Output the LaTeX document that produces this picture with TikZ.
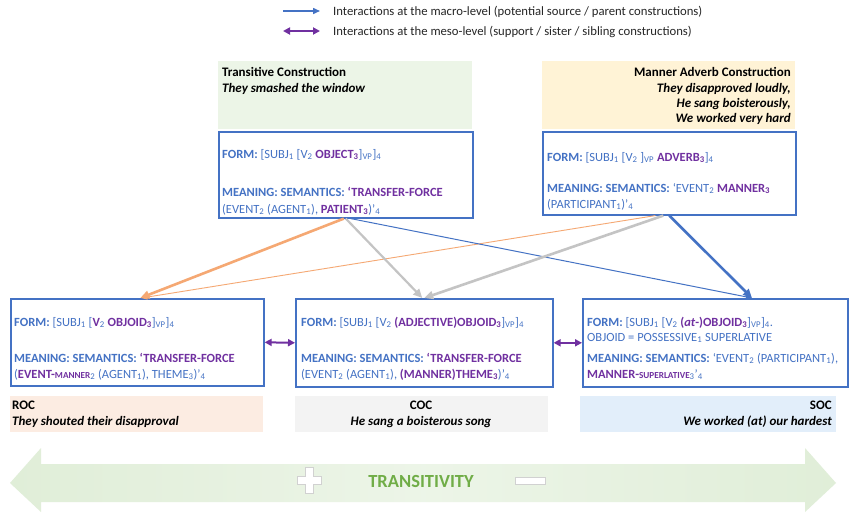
\documentclass[tikz,border=0pt]{standalone}
\usepackage{fontspec}
\setmainfont{Carlito}
\usetikzlibrary{arrows.meta,calc}
\definecolor{cblue}{RGB}{68,114,196}
\definecolor{cpurp}{RGB}{112,48,160}
\definecolor{corange}{RGB}{245,168,115}
\definecolor{cgray}{RGB}{196,196,196}
\definecolor{bggreen}{RGB}{236,245,231}
\definecolor{bgyellow}{RGB}{255,243,214}
\definecolor{bgpeach}{RGB}{252,236,226}
\definecolor{bggray}{RGB}{243,243,243}
\definecolor{bgblue}{RGB}{226,238,250}
\definecolor{arrowgreen}{RGB}{224,238,216}
\definecolor{tgreen}{RGB}{112,173,71}
\newcommand\pu[1]{\textcolor{cpurp}{\bfseries #1}}
\newcommand\ssub[1]{\textsubscript{#1}}
\newcommand\smc[1]{{\fontsize{9.2}{10}\selectfont #1}}
\tikzset{
  txt/.style={anchor=base west, inner sep=0pt, font=\fontsize{12.5}{14}\selectfont, text=cblue},
  lbl/.style={inner sep=0pt, font=\fontsize{13}{15}\selectfont, text=black},
  leg/.style={inner sep=0pt, font=\fontsize{12.7}{15}\selectfont, text=black!85, anchor=base west},
  box/.style={draw=cblue, line width=1.6pt, anchor=north west, inner sep=0pt, fill=white},
  bgbox/.style={anchor=north west, inner sep=0pt, draw=none},
  orangethick/.style={draw=corange, line width=2.6pt, -{Triangle[length=9pt,width=8pt]}},
  orangethin/.style={draw=corange, line width=0.9pt, -{Triangle[length=6pt,width=5pt]}},
  graymid/.style={draw=cgray, line width=2.2pt, -{Triangle[length=9pt,width=8pt]}},
  graythick/.style={draw=cgray, line width=2.6pt, -{Triangle[length=9pt,width=8pt]}},
  bluethin/.style={draw=cblue, line width=1pt, -{Triangle[length=6pt,width=5pt]}},
  bluethick/.style={draw=cblue, line width=2.6pt, -{Triangle[length=9pt,width=8pt]}},
  legblue/.style={draw=cblue, line width=1.5pt, -{Triangle[length=7pt,width=6pt]}},
  legpurp/.style={draw=cpurp, line width=2pt, {Triangle[length=7pt,width=7pt]}-{Triangle[length=7pt,width=7pt]}},
}
\begin{document}
\begin{tikzpicture}[x=1pt,y=-1pt]
\useasboundingbox (0,0) rectangle (850,512);
\fill[white] (0,0) rectangle (850,512);

% legend
\coordinate (lb1) at (283,11);
\coordinate (lb2) at (320,11);
\coordinate (lp1) at (283,31);
\coordinate (lp2) at (320,31);
\draw[legblue] (lb1) -- (lb2);
\draw[legpurp] (lp1) -- (lp2);
\node[leg] (leg1) at (333,15) {Interactions at the macro-level (potential source / parent constructions)};
\node[leg] (leg2) at (333,35) {Interactions at the meso-level (support / sister / sibling constructions)};

% top label backgrounds
\node[bgbox, fill=bggreen, minimum width=254pt, minimum height=68pt] (trbg) at (218,61) {};
\node[bgbox, fill=bgyellow, minimum width=253pt, minimum height=68pt] (mabg) at (542,61) {};
\node[lbl, anchor=base west] (trt1) at (222,76) {\bfseries Transitive Construction};
\node[lbl, anchor=base west] (trt2) at (222,92) {\bfseries\itshape They smashed the window};
\node[lbl, anchor=base east] (mat1) at (791,76) {\bfseries Manner Adverb Construction};
\node[lbl, anchor=base east] (mat2) at (791,92) {\bfseries\itshape They disapproved loudly,};
\node[lbl, anchor=base east] (mat3) at (791,107) {\bfseries\itshape He sang boisterously,};
\node[lbl, anchor=base east] (mat4) at (791,122) {\bfseries\itshape We worked very hard};

% top boxes
\node[box, minimum width=254pt, minimum height=86pt] (tr) at (218,131) {};
\node[box, minimum width=253pt, minimum height=83pt] (ma) at (542,131) {};

\node[txt] (trf) at (222,158) {\textbf{FORM:} [SUBJ\ssub{1} [V\ssub{2} \pu{OBJECT\ssub{3}}]\ssub{VP}]\ssub{4}};
\node[txt] (trm) at (222,196) {\textbf{MEANING: SEMANTICS:} \pu{‘TRANSFER-FORCE}};
\node[txt] (trm2) at (222,213) {(EVENT\ssub{2} (AGENT\ssub{1}), \pu{PATIENT\ssub{3}})’\ssub{4}};

\node[txt] (maf) at (547,161) {\textbf{FORM:} [SUBJ\ssub{1} [V\ssub{2} ]\ssub{VP} \pu{ADVERB\ssub{3}}]\ssub{4}};
\node[txt] (mam) at (547,192) {\textbf{MEANING: SEMANTICS:} ‘EVENT\ssub{2} \pu{MANNER\ssub{3}}};
\node[txt] (mam2) at (547,208) {(PARTICIPANT\ssub{1})’\ssub{4}};

% bottom label backgrounds
\node[bgbox, fill=bgpeach, minimum width=253pt, minimum height=36pt] (rocbg) at (10,396) {};
\node[bgbox, fill=bggray, minimum width=253pt, minimum height=36pt] (cocbg) at (295,396) {};
\node[bgbox, fill=bgblue, minimum width=256pt, minimum height=36pt] (socbg) at (580,396) {};
\node[lbl, anchor=base west] (roc1) at (12,409) {\bfseries ROC};
\node[lbl, anchor=base west] (roc2) at (12,425) {\bfseries\itshape They shouted their disapproval};
\node[lbl, anchor=base] (coc1) at (421,409) {\bfseries COC};
\node[lbl, anchor=base] (coc2) at (421,425) {\bfseries\itshape He sang a boisterous song};
\node[lbl, anchor=base east] (soc1) at (832,409) {\bfseries SOC};
\node[lbl, anchor=base east] (soc2) at (832,425) {\bfseries\itshape We worked (at) our hardest};

% bottom boxes
\node[box, minimum width=253pt, minimum height=87pt] (lb) at (10,298) {};
\node[box, minimum width=257pt, minimum height=88pt] (mb) at (295,298) {};
\node[box, minimum width=265pt, minimum height=88pt] (rb) at (582,298) {};

\node[txt] (lbf) at (14,326) {\textbf{FORM:} [SUBJ\ssub{1} [\pu{V}\ssub{2} \pu{OBJOID\ssub{3}}]\ssub{VP}]\ssub{4}};
\node[txt] (lbm) at (14,362) {\textbf{MEANING: SEMANTICS:} \pu{‘TRANSFER-FORCE}};
\node[txt] (lbm2) at (14,378) {(\pu{EVENT-\smc{MANNER}}\ssub{2} (AGENT\ssub{1}), THEME\ssub{3})’\ssub{4}};

\node[txt] (mbf) at (301,326) {\textbf{FORM:} [SUBJ\ssub{1} [V\ssub{2} \pu{(ADJECTIVE)OBJOID\ssub{3}}]\ssub{VP}]\ssub{4}};
\node[txt] (mbm) at (301,362) {\textbf{MEANING: SEMANTICS:} \pu{‘TRANSFER-FORCE}};
\node[txt] (mbm2) at (301,378) {(EVENT\ssub{2} (AGENT\ssub{1}), \pu{(MANNER)THEME\ssub{3}})’\ssub{4}};

\node[txt] (rbf) at (587,326) {\textbf{FORM:} [SUBJ\ssub{1} [V\ssub{2} \pu{(\textit{at}-)OBJOID\ssub{3}}]\ssub{VP}]\ssub{4}.};
\node[txt] (rbo) at (587,341) {OBJOID = POSSESSIVE\ssub{1} SUPERLATIVE};
\node[txt] (rbm) at (587,362) {\textbf{MEANING: SEMANTICS:} ‘EVENT\ssub{2} (PARTICIPANT\ssub{1}),};
\node[txt] (rbm2) at (587,378) {\pu{MANNER-\smc{SUPERLATIVE}}\ssub{3}’\ssub{4}};

% connectors
\coordinate (rbtop) at ($(rb.north west)+(170,0)$);
\draw[orangethin] ([xshift=-14pt]ma.south) -- ([xshift=4pt]lb.north);
\draw[bluethin] ([xshift=5pt]tr.south) -- (rbtop);
\draw[orangethick] ([xshift=-2pt]tr.south) -- ([xshift=3pt]lb.north);
\draw[graymid] (tr.south) -- ([xshift=-2pt]mb.north);
\draw[graythick] ([xshift=-6pt]ma.south) -- (mb.north);
\draw[bluethick] (ma.south) -- (rbtop);

\draw[legpurp] (lb.east) -- (mb.west);
\draw[legpurp] (mb.east) -- (rb.west);

% transitivity arrow
\shade[left color=arrowgreen, right color=arrowgreen, middle color=arrowgreen!60!white]
  (10,483) -- (41,448) -- (41,464) -- (805,464) -- (805,448) -- (836,483) -- (805,512) -- (805,502) -- (41,502) -- (41,512) -- cycle;
\filldraw[fill=white, draw=black!18, line width=0.6pt]
  (305,467) -- (313,467) -- (313,476) -- (321,476) -- (321,484) -- (313,484) -- (313,493) -- (305,493) -- (305,484) -- (297,484) -- (297,476) -- (305,476) -- cycle;
\filldraw[fill=white, draw=black!18, line width=0.6pt] (515,477) rectangle (545,484);
\node[inner sep=0pt, font=\fontsize{18.5}{20}\selectfont\bfseries, text=tgreen] (trans) at (421,481) {TRANSITIVITY};
\end{tikzpicture}
\end{document}
